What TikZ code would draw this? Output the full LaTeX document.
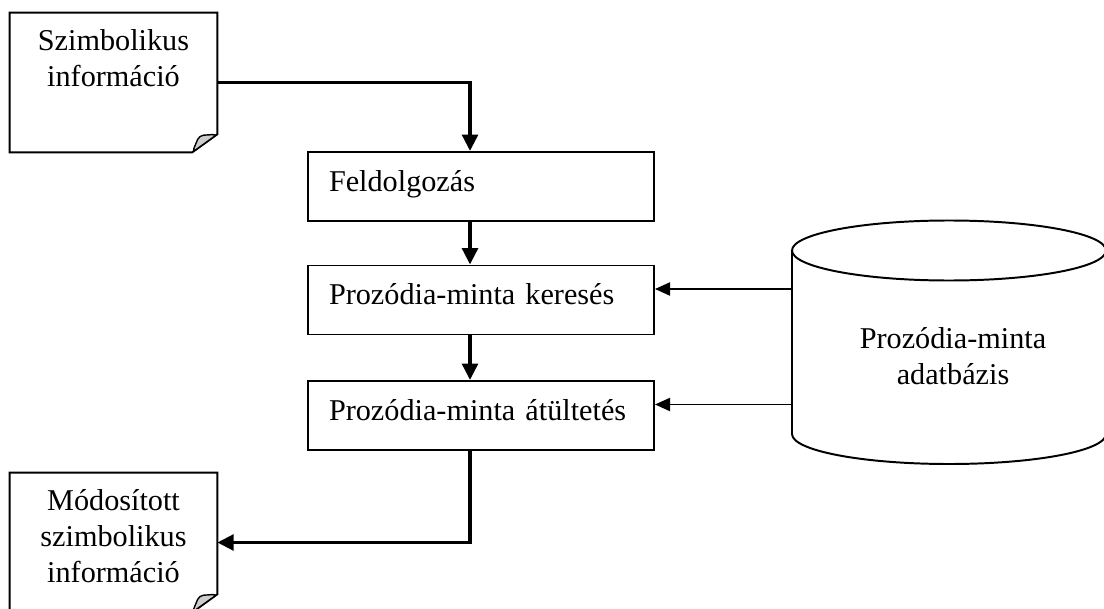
\documentclass[tikz,border=0pt]{standalone}
\usepackage{fontspec}
\setmainfont{Liberation Serif}
\usetikzlibrary{arrows.meta}

\tikzset{
    box/.style={draw, line width=1.4pt, inner xsep=0.525cm, inner ysep=0pt,
        text width=7.6cm, align=left, text height=0.975cm, text depth=0.75cm},
    docpage/.style={minimum width=5.175cm, minimum height=3.475cm, inner sep=0pt},
    doctext/.style={anchor=north, inner sep=0pt, align=center},
    flow/.style={line width=2.7pt, -{Triangle[length=0.41cm,width=0.39cm]}},
    feed/.style={line width=1.4pt, -{Triangle[length=0.38cm,width=0.33cm]}},
}

\begin{document}
\begin{tikzpicture}[font=\fontsize{21.5}{25.6}\selectfont]
    \useasboundingbox (0,0) rectangle (27.6,15.2);

    % Documents (input and output)
    \node (szimb) [docpage] at (2.8375,13.1375) {};
    \node [doctext] at ([yshift=-0.42cm]szimb.north) {Szimbolikus\\információ};
    \node (modos) [docpage] at (2.8375,1.6375) {};
    \node [doctext] at ([yshift=-0.4cm]modos.north) {Módosított\\szimbolikus\\információ};
    \foreach \d in {szimb,modos} {
        \draw[line width=1.4pt] (\d.north west) -- (\d.north east)
            -- ([yshift=0.45cm]\d.south east) -- ([xshift=-0.625cm]\d.south east)
            -- (\d.south west) -- cycle;
        \draw[line width=1pt, fill=gray!40, rounded corners=3pt]
            ([xshift=-0.625cm]\d.south east) -- ([xshift=-0.45cm,yshift=0.42cm]\d.south east)
            -- ([yshift=0.45cm]\d.south east) -- cycle;
    }

    % Processing steps
    \node (feld) [box] at (12.025,10.5375) {Feldolgozás};
    \node (keres) [box] at (12.025,7.7) {Prozódia-minta keresés};
    \node (atult) [box] at (12.025,4.8125) {Prozódia-minta átültetés};

    % Database
    \draw[line width=1.4pt] (19.8,8.9375) -- (19.8,4.35)
        arc[start angle=180, end angle=360, x radius=3.925cm, y radius=0.75cm]
        -- (27.65,8.9375);
    \draw[line width=1.4pt] (23.725,8.9375) ellipse [x radius=3.925cm, y radius=0.75cm];
    \node (db) [doctext] at (23.825,7.03) {Prozódia-minta\\adatbázis};
    \coordinate (dbleft) at (19.8,0);

    % Connectors
    \coordinate (spine) at (11.75,0);
    \draw[flow] (szimb.east) -| (feld.north -| spine);
    \draw[flow] (feld.south -| spine) -- (keres.north -| spine);
    \draw[flow] (keres.south -| spine) -- (atult.north -| spine);
    \draw[flow] (atult.south -| spine) |- (modos.east);
    \foreach \b in {keres,atult}
        \draw[feed] ([yshift=0.275cm]\b.east -| dbleft) -- ([yshift=0.275cm]\b.east);
\end{tikzpicture}
\end{document}
